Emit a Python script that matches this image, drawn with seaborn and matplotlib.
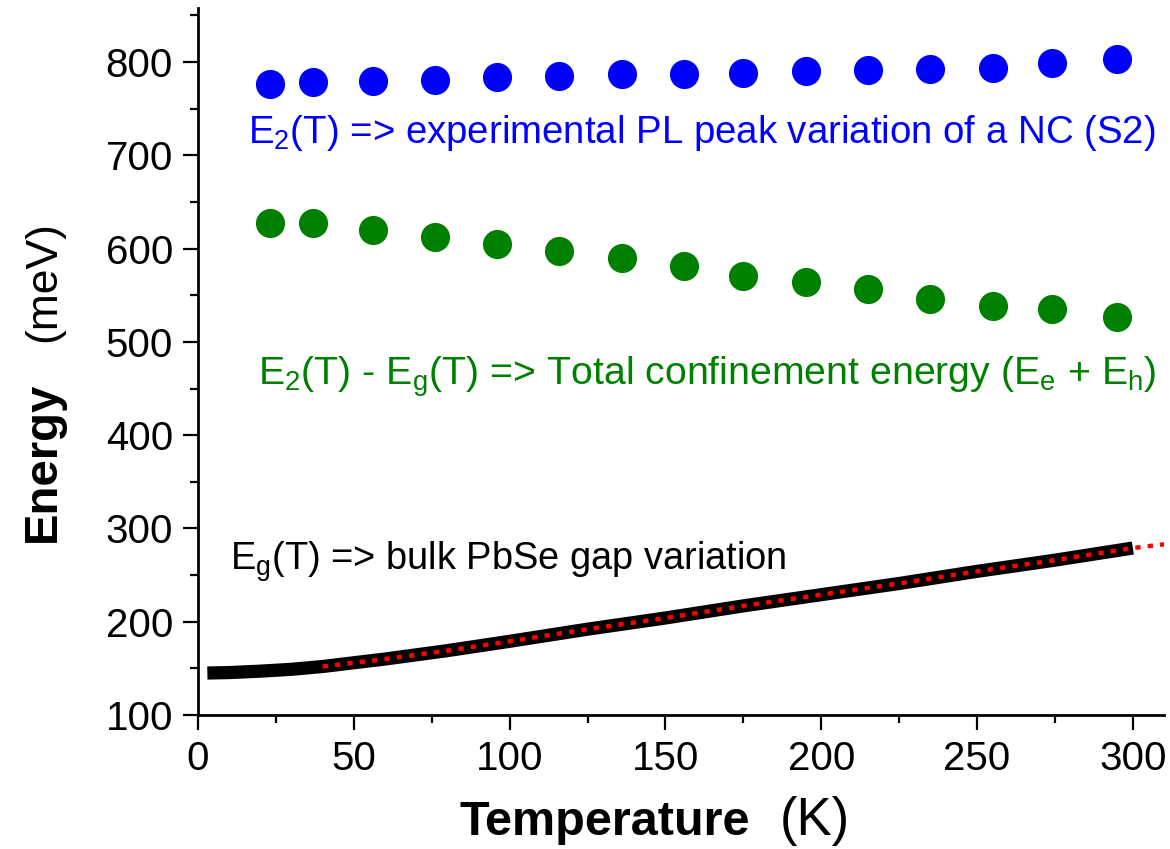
import matplotlib
matplotlib.use("Agg")
import matplotlib.pyplot as plt
import seaborn as sns
import pandas as pd
from matplotlib.ticker import MultipleLocator

# ---- data ----
T_pts = [23, 37, 56, 76, 96, 116, 136, 156, 175, 195, 215, 235, 255, 274, 295]
E2_pl = [777, 779, 780, 781, 784, 785, 787, 787, 788, 790, 792, 793, 794, 799, 803]
E_conf = [628, 627, 620, 612, 605, 598, 590, 581, 571, 564, 557, 546, 538, 535, 527]
T_bulk = [3, 10, 20, 30, 40, 50, 60, 80, 100, 125, 150, 175, 200, 225, 250, 275, 300]
Eg_bulk = [145, 145.5, 147, 149, 152, 156, 160, 169, 179, 192, 204, 217, 229, 241, 254, 266, 279]
T_fit = [40, 50, 60, 80, 100, 125, 150, 175, 200, 225, 250, 275, 300, 310]
Eg_fit = [152, 156, 160, 169, 179, 192, 204, 217, 229, 241, 254, 266, 279, 283]
x_ticks = [0, 50, 100, 150, 200, 250, 300]
y_ticks = [100, 200, 300, 400, 500, 600, 700, 800]

sns.set_style("ticks")
plt.rcParams["font.family"] = ["Liberation Sans", "DejaVu Sans"]
plt.rcParams["text.color"] = "black"
plt.rcParams["axes.labelcolor"] = "black"
plt.rcParams["xtick.color"] = "black"
plt.rcParams["ytick.color"] = "black"
plt.rcParams["axes.edgecolor"] = "black"
plt.rcParams["mathtext.fontset"] = "custom"
plt.rcParams["mathtext.rm"] = "Liberation Sans"
plt.rcParams["mathtext.it"] = "Liberation Sans"
plt.rcParams["mathtext.bf"] = "Liberation Sans:bold"

W, H = 1170, 849
fig = plt.figure(figsize=(W / 100, H / 100), dpi=100)
ax = fig.add_axes([198 / W, 1 - 715 / H, (1164 - 198) / W, (715 - 8) / H])

df_pts = pd.DataFrame({"T": T_pts, "E2": E2_pl, "Conf": E_conf})
df_bulk = pd.DataFrame({"T": T_bulk, "Eg": Eg_bulk})
df_fit = pd.DataFrame({"T": T_fit, "Eg": Eg_fit})

sns.lineplot(data=df_bulk, x="T", y="Eg", ax=ax, color="black", lw=9.5,
             solid_capstyle="butt", sort=False, estimator=None, zorder=2)
sns.lineplot(data=df_fit, x="T", y="Eg", ax=ax, color="#ff0000", lw=3.2,
             linestyle=(0, (1.2, 1.6)), dash_capstyle="butt", sort=False,
             estimator=None, zorder=3, clip_on=False)
sns.scatterplot(data=df_pts, x="T", y="E2", ax=ax, color="#0000ff", s=440,
                linewidth=0, zorder=4, clip_on=False)
sns.scatterplot(data=df_pts, x="T", y="Conf", ax=ax, color="#008000", s=440,
                linewidth=0, zorder=4)

ax.set_xlim(0, 310)
ax.set_ylim(100, 858)
ax.set_xticks(x_ticks)
ax.set_yticks(y_ticks)
ax.xaxis.set_minor_locator(MultipleLocator(25))
ax.yaxis.set_minor_locator(MultipleLocator(50))
ax.set_xlabel("")
ax.set_ylabel("")
for s in ["top", "right"]:
    ax.spines[s].set_visible(False)
for s in ["left", "bottom"]:
    ax.spines[s].set_linewidth(2.0)
    ax.spines[s].set_color("black")
ax.tick_params(which="major", direction="out", length=11, width=1.6,
               labelsize=29, pad=7, colors="black")
ax.tick_params(which="minor", direction="out", length=5.5, width=1.6,
               colors="black")

def px(x, y):
    return x / W, 1 - y / H

fig.text(*px(248, 143), r"E$_2$(T) => experimental PL peak variation of a NC (S2)",
         color="#0000ff", fontsize=27.6, ha="left", va="baseline")
fig.text(*px(258, 385),
         r"E$_2$(T) - E$_\mathrm{g}$(T) => Total confinement energy (E$_\mathrm{e}$ + E$_\mathrm{h}$)",
         color="#008000", fontsize=28.3, ha="left", va="baseline")
fig.text(*px(230, 570), r"E$_\mathrm{g}$(T) => bulk PbSe gap variation",
         color="black", fontsize=27.4, ha="left", va="baseline")

fig.text(*px(459, 835), "Temperature", fontsize=35, fontweight="bold",
         ha="left", va="baseline", color="black")
fig.text(*px(780, 835), "(K)", fontsize=38, ha="left", va="baseline",
         color="black")
fig.text(*px(55, 542), "Energy", fontsize=34, fontweight="bold", rotation=90,
         rotation_mode="anchor", ha="left", va="baseline", color="black")
fig.text(*px(55, 342), "(meV)", fontsize=32, rotation=90,
         rotation_mode="anchor", ha="left", va="baseline", color="black")

fig.savefig("out.png", dpi=100)
